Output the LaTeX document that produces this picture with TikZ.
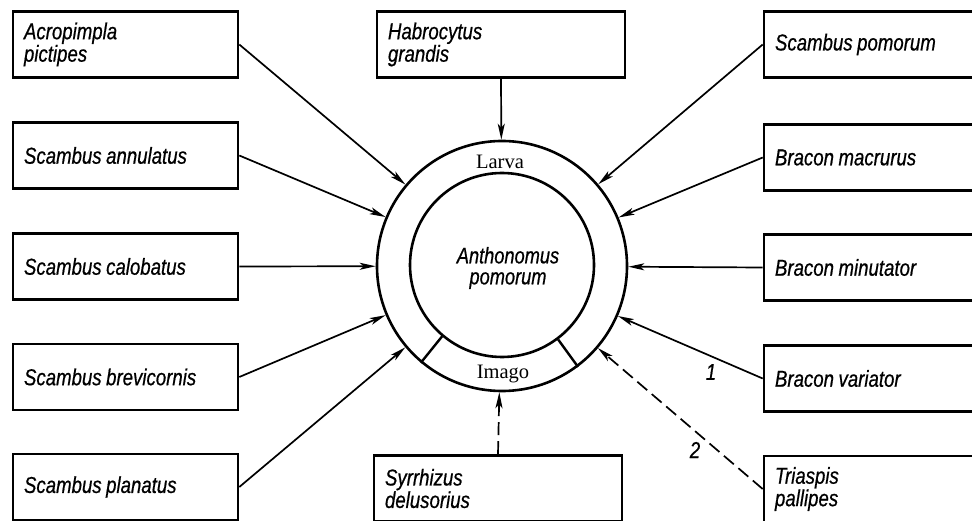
\documentclass[tikz,border=0pt]{standalone}
\usepackage{fontspec}
\setmainfont{Liberation Serif}
\newfontfamily\gost{Liberation Sans}[FakeStretch=0.81,FakeBold=0.6]
\usetikzlibrary{arrows.meta}
\newlength\gostspace
\setlength\gostspace{4.5pt}
\begin{document}
\begin{tikzpicture}[x=1pt,y=-1pt,
  sp/.style={draw, line width=2.6pt, minimum height=66pt, inner xsep=11pt, inner ysep=0pt,
    align=left, font=\gost\itshape\fontsize{23}{20}\selectfont,
    execute at begin node={\spaceskip=\gostspace\relax}},
  lbox/.style={sp, text width=203pt},
  cbox/.style={sp, text width=226pt},
  rbox/.style={sp, text width=220pt},
  ring/.style={draw, circle, line width=2.6pt, inner sep=0pt},
  arr/.style={line width=1.7pt, -{Stealth[length=16pt,width=7pt,inset=4pt]}},
  darr/.style={arr, dash pattern=on 13pt off 6pt},
  stage/.style={font=\fontsize{20.5}{20}\selectfont},
  num/.style={font=\gost\itshape\fontsize{23}{20}\selectfont}]
\clip (0,0) rectangle (972,521);
\fill[white] (0,0) rectangle (972,521);

% ring
\node[ring, minimum size=250pt] (outer) at (502,266) {};
\node[ring, minimum size=184pt] (inner) at (502,265) {};
\draw[line width=2.4pt] (inner.-130) -- (outer.-130);
\draw[line width=2.4pt] (inner.-53) -- (outer.-53);
\node[stage] (larva) at (500,162) {Larva};
\node[stage] (imago) at (503,374) {Imago};
\node[align=center, font=\gost\itshape\fontsize{22.5}{21}\selectfont] (host) at (508,268) {Anthonomus\\pomorum};

% left column
\node[lbox] (L1) at (125.5,44.5) {Acropimpla\\pictipes};
\node[lbox] (L2) at (125.5,155.5) {Scambus annulatus};
\node[lbox] (L3) at (125.5,266.5) {Scambus calobatus};
\node[lbox] (L4) at (125.5,377) {Scambus brevicornis};
\node[lbox] (L5) at (125.5,487) {Scambus planatus};

% centre column
\node[cbox] (T) at (501,44.5) {Habrocytus\\grandis};
\node[cbox] (B) at (498,488.5) {Syrrhizus\\delusorius};

% right column
\node[rbox] (R1) at (885,44.5) {Scambus pomorum};
\node[rbox] (R2) at (885,157.5) {Bracon macrurus};
\node[rbox] (R3) at (885,267.5) {Bracon minutator};
\node[rbox] (R4) at (885,378.5) {Bracon variator};
\node[rbox] (R5) at (885,489) {Triaspis\\pallipes};

% connectors
\draw[arr] (L1.east) -- (outer);
\draw[arr] (L2.east) -- (outer);
\draw[arr] (L3.east) -- (outer);
\draw[arr] (L4.east) -- (outer);
\draw[arr] (L5.east) -- (outer);
\draw[arr] (T.south) -- (outer);
\draw[darr] (B.north) -- (outer);
\draw[arr] (R1.west) -- (outer);
\draw[arr] (R2.west) -- (outer);
\draw[arr] (R3.west) -- (outer);
\draw[arr] (R4.west) -- (outer);
\draw[darr] (R5.west) -- (outer);

\node[num] (n1) at (711,372) {1};
\node[num] (n2) at (695,450) {2};
\end{tikzpicture}
\end{document}
